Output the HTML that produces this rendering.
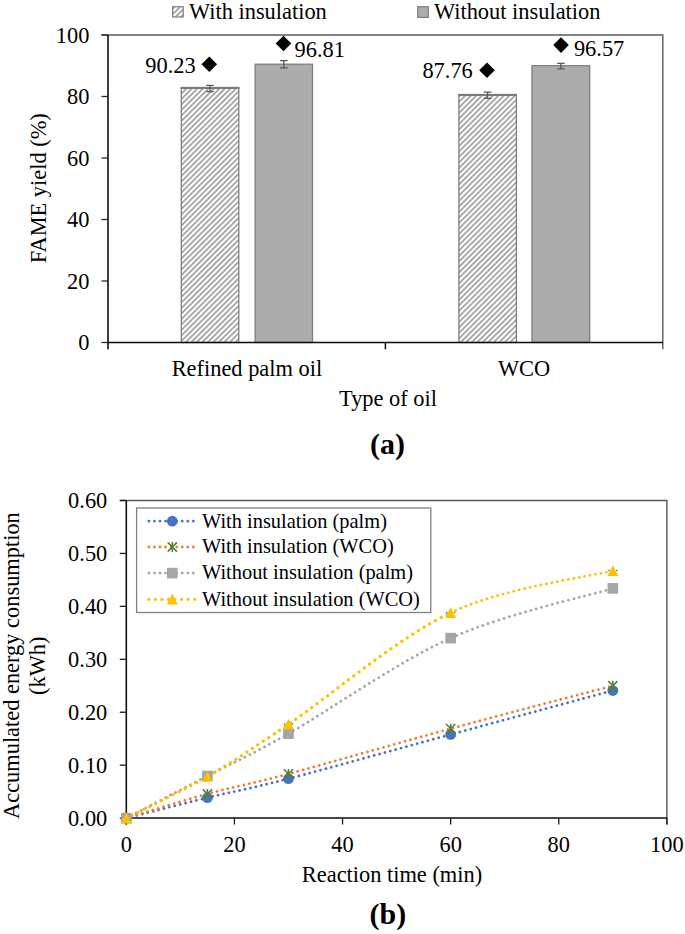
<!DOCTYPE html>
<html><head><meta charset="utf-8"><style>
html,body{margin:0;padding:0;background:#fff;}
body{width:685px;height:934px;overflow:hidden;}
svg{display:block;}
text{font-family:"Liberation Serif", serif;fill:#000;}
</style></head><body>
<svg width="685" height="934" viewBox="0 0 685 934">
<defs>

</defs>

<clipPath id="hc0"><rect x="181.3" y="87.5" width="57.5" height="255.0"/></clipPath><rect x="181.3" y="87.5" width="57.5" height="255.0" fill="#fff"/><path clip-path="url(#hc0)" d="M-80.50,344.50L178.50,85.50M-75.00,344.50L184.00,85.50M-69.50,344.50L189.50,85.50M-64.00,344.50L195.00,85.50M-58.50,344.50L200.50,85.50M-53.00,344.50L206.00,85.50M-47.50,344.50L211.50,85.50M-42.00,344.50L217.00,85.50M-36.50,344.50L222.50,85.50M-31.00,344.50L228.00,85.50M-25.50,344.50L233.50,85.50M-20.00,344.50L239.00,85.50M-14.50,344.50L244.50,85.50M-9.00,344.50L250.00,85.50M-3.50,344.50L255.50,85.50M2.00,344.50L261.00,85.50M7.50,344.50L266.50,85.50M13.00,344.50L272.00,85.50M18.50,344.50L277.50,85.50M24.00,344.50L283.00,85.50M29.50,344.50L288.50,85.50M35.00,344.50L294.00,85.50M40.50,344.50L299.50,85.50M46.00,344.50L305.00,85.50M51.50,344.50L310.50,85.50M57.00,344.50L316.00,85.50M62.50,344.50L321.50,85.50M68.00,344.50L327.00,85.50M73.50,344.50L332.50,85.50M79.00,344.50L338.00,85.50M84.50,344.50L343.50,85.50M90.00,344.50L349.00,85.50M95.50,344.50L354.50,85.50M101.00,344.50L360.00,85.50M106.50,344.50L365.50,85.50M112.00,344.50L371.00,85.50M117.50,344.50L376.50,85.50M123.00,344.50L382.00,85.50M128.50,344.50L387.50,85.50M134.00,344.50L393.00,85.50M139.50,344.50L398.50,85.50M145.00,344.50L404.00,85.50M150.50,344.50L409.50,85.50M156.00,344.50L415.00,85.50M161.50,344.50L420.50,85.50M167.00,344.50L426.00,85.50M172.50,344.50L431.50,85.50M178.00,344.50L437.00,85.50M183.50,344.50L442.50,85.50M189.00,344.50L448.00,85.50M194.50,344.50L453.50,85.50M200.00,344.50L459.00,85.50M205.50,344.50L464.50,85.50M211.00,344.50L470.00,85.50M216.50,344.50L475.50,85.50M222.00,344.50L481.00,85.50M227.50,344.50L486.50,85.50M233.00,344.50L492.00,85.50M238.50,344.50L497.50,85.50" stroke="#a6a6a6" stroke-width="1.9" fill="none"/>
<rect x="181.3" y="87.5" width="57.5" height="255.0" fill="none" stroke="#7f7f7f" stroke-width="1.3"/>
<path d="M180.70000000000002,88.0 H239.4" stroke="#7a7a7a" stroke-width="2"/>
<rect x="255.1" y="64.2" width="57.400000000000006" height="278.3" fill="#acacac" stroke="#7f7f7f" stroke-width="1.3"/>
<clipPath id="hc2"><rect x="458.9" y="94.5" width="57.5" height="248.0"/></clipPath><rect x="458.9" y="94.5" width="57.5" height="248.0" fill="#fff"/><path clip-path="url(#hc2)" d="M205.50,344.50L457.50,92.50M211.00,344.50L463.00,92.50M216.50,344.50L468.50,92.50M222.00,344.50L474.00,92.50M227.50,344.50L479.50,92.50M233.00,344.50L485.00,92.50M238.50,344.50L490.50,92.50M244.00,344.50L496.00,92.50M249.50,344.50L501.50,92.50M255.00,344.50L507.00,92.50M260.50,344.50L512.50,92.50M266.00,344.50L518.00,92.50M271.50,344.50L523.50,92.50M277.00,344.50L529.00,92.50M282.50,344.50L534.50,92.50M288.00,344.50L540.00,92.50M293.50,344.50L545.50,92.50M299.00,344.50L551.00,92.50M304.50,344.50L556.50,92.50M310.00,344.50L562.00,92.50M315.50,344.50L567.50,92.50M321.00,344.50L573.00,92.50M326.50,344.50L578.50,92.50M332.00,344.50L584.00,92.50M337.50,344.50L589.50,92.50M343.00,344.50L595.00,92.50M348.50,344.50L600.50,92.50M354.00,344.50L606.00,92.50M359.50,344.50L611.50,92.50M365.00,344.50L617.00,92.50M370.50,344.50L622.50,92.50M376.00,344.50L628.00,92.50M381.50,344.50L633.50,92.50M387.00,344.50L639.00,92.50M392.50,344.50L644.50,92.50M398.00,344.50L650.00,92.50M403.50,344.50L655.50,92.50M409.00,344.50L661.00,92.50M414.50,344.50L666.50,92.50M420.00,344.50L672.00,92.50M425.50,344.50L677.50,92.50M431.00,344.50L683.00,92.50M436.50,344.50L688.50,92.50M442.00,344.50L694.00,92.50M447.50,344.50L699.50,92.50M453.00,344.50L705.00,92.50M458.50,344.50L710.50,92.50M464.00,344.50L716.00,92.50M469.50,344.50L721.50,92.50M475.00,344.50L727.00,92.50M480.50,344.50L732.50,92.50M486.00,344.50L738.00,92.50M491.50,344.50L743.50,92.50M497.00,344.50L749.00,92.50M502.50,344.50L754.50,92.50M508.00,344.50L760.00,92.50M513.50,344.50L765.50,92.50M519.00,344.50L771.00,92.50" stroke="#a6a6a6" stroke-width="1.9" fill="none"/>
<rect x="458.9" y="94.5" width="57.5" height="248.0" fill="none" stroke="#7f7f7f" stroke-width="1.3"/>
<path d="M458.29999999999995,95.0 H517.0" stroke="#7a7a7a" stroke-width="2"/>
<rect x="532.0" y="65.7" width="57.700000000000045" height="276.8" fill="#acacac" stroke="#7f7f7f" stroke-width="1.3"/>
<path d="M210,85.4 V91.6 M206.2,85.4 H213.8 M206.2,91.6 H213.8" stroke="#595959" stroke-width="1.3" fill="none"/>
<path d="M283.8,60.6 V67.8 M280.0,60.6 H287.6 M280.0,67.8 H287.6" stroke="#595959" stroke-width="1.3" fill="none"/>
<path d="M487.6,92.2 V98.3 M483.8,92.2 H491.40000000000003 M483.8,98.3 H491.40000000000003" stroke="#595959" stroke-width="1.3" fill="none"/>
<path d="M560.9,63.4 V68.8 M557.1,63.4 H564.6999999999999 M557.1,68.8 H564.6999999999999" stroke="#595959" stroke-width="1.3" fill="none"/>
<path d="M101.5,35 H662.8 V349.3" stroke="#595959" stroke-width="1.4" fill="none"/>
<path d="M108,35 V349.3" stroke="#1a1a1a" stroke-width="1.7" fill="none"/>
<path d="M108,342.5 H662.8 M385.4,342.5 V349.3" stroke="#0d0d0d" stroke-width="1.5" fill="none"/>
<path d="M101.5,342.5 H108" stroke="#262626" stroke-width="1.3"/>
<text x="89.4" y="350.0" font-size="22.4" text-anchor="end">0</text>
<path d="M101.5,281.0 H108" stroke="#262626" stroke-width="1.3"/>
<text x="89.4" y="288.5" font-size="22.4" text-anchor="end">20</text>
<path d="M101.5,219.5 H108" stroke="#262626" stroke-width="1.3"/>
<text x="89.4" y="227.0" font-size="22.4" text-anchor="end">40</text>
<path d="M101.5,158.0 H108" stroke="#262626" stroke-width="1.3"/>
<text x="89.4" y="165.5" font-size="22.4" text-anchor="end">60</text>
<path d="M101.5,96.5 H108" stroke="#262626" stroke-width="1.3"/>
<text x="89.4" y="104.0" font-size="22.4" text-anchor="end">80</text>
<path d="M101.5,35.0 H108" stroke="#262626" stroke-width="1.3"/>
<text x="89.4" y="42.5" font-size="22.4" text-anchor="end">100</text>
<path d="M209.3,56.5 L217.10000000000002,64.3 L209.3,72.1 L201.5,64.3 Z" fill="#000"/>
<path d="M283.5,35.7 L291.3,43.5 L283.5,51.3 L275.7,43.5 Z" fill="#000"/>
<path d="M487,62.5 L494.8,70.3 L487,78.1 L479.2,70.3 Z" fill="#000"/>
<path d="M561,37.300000000000004 L568.8,45.1 L561,52.9 L553.2,45.1 Z" fill="#000"/>
<text x="145.3" y="73.4" font-size="22.4">90.23</text>
<text x="294.5" y="56.9" font-size="22.4">96.81</text>
<text x="422.4" y="78.4" font-size="22.4">87.76</text>
<text x="573.9" y="55.6" font-size="22.4">96.57</text>
<clipPath id="hcl"><rect x="172.6" y="6.7" width="10.599999999999994" height="10.3"/></clipPath><rect x="172.6" y="6.7" width="10.599999999999994" height="10.3" fill="#fff"/><path clip-path="url(#hcl)" d="M157.00,19.00L171.30,4.70M162.50,19.00L176.80,4.70M168.00,19.00L182.30,4.70M173.50,19.00L187.80,4.70M179.00,19.00L193.30,4.70M184.50,19.00L198.80,4.70" stroke="#a6a6a6" stroke-width="1.9" fill="none"/>
<rect x="172.6" y="6.7" width="10.6" height="10.3" fill="none" stroke="#7f7f7f" stroke-width="1.2"/>
<text x="189" y="18.8" font-size="22.4">With insulation</text>
<rect x="417.7" y="6.7" width="10.6" height="10.7" fill="#acacac" stroke="#7f7f7f" stroke-width="1.2"/>
<text x="434" y="18.8" font-size="22.4">Without insulation</text>
<text x="246.9" y="376" font-size="22.4" text-anchor="middle">Refined palm oil</text>
<text x="524.1" y="376.2" font-size="22.4" text-anchor="middle">WCO</text>
<text x="388" y="405.9" font-size="22.4" text-anchor="middle">Type of oil</text>
<text x="387.6" y="453.5" font-size="30" font-weight="bold" text-anchor="middle">(a)</text>
<text transform="translate(46,188.3) rotate(-90)" font-size="22.4" text-anchor="middle">FAME yield (%)</text>
<path d="M119.8,500.5 H666.9 V824.5" stroke="#595959" stroke-width="1.4" fill="none"/>
<path d="M126.3,500.5 V824.5" stroke="#111" stroke-width="1.6" fill="none"/>
<path d="M126.3,818.1 H666.9" stroke="#0d0d0d" stroke-width="1.5" fill="none"/>
<path d="M119.8,818.1 H126.3" stroke="#1a1a1a" stroke-width="1.3"/>
<text x="107.3" y="825.5" font-size="22.4" text-anchor="end">0.00</text>
<path d="M119.8,765.1666666666666 H126.3" stroke="#1a1a1a" stroke-width="1.3"/>
<text x="107.3" y="772.5666666666666" font-size="22.4" text-anchor="end">0.10</text>
<path d="M119.8,712.2333333333333 H126.3" stroke="#1a1a1a" stroke-width="1.3"/>
<text x="107.3" y="719.6333333333333" font-size="22.4" text-anchor="end">0.20</text>
<path d="M119.8,659.3 H126.3" stroke="#1a1a1a" stroke-width="1.3"/>
<text x="107.3" y="666.6999999999999" font-size="22.4" text-anchor="end">0.30</text>
<path d="M119.8,606.3666666666667 H126.3" stroke="#1a1a1a" stroke-width="1.3"/>
<text x="107.3" y="613.7666666666667" font-size="22.4" text-anchor="end">0.40</text>
<path d="M119.8,553.4333333333334 H126.3" stroke="#1a1a1a" stroke-width="1.3"/>
<text x="107.3" y="560.8333333333334" font-size="22.4" text-anchor="end">0.50</text>
<path d="M119.8,500.5 H126.3" stroke="#1a1a1a" stroke-width="1.3"/>
<text x="107.3" y="507.9" font-size="22.4" text-anchor="end">0.60</text>
<path d="M126.3,818.1 V824.5" stroke="#1a1a1a" stroke-width="1.3"/>
<text x="126.3" y="852" font-size="22.4" text-anchor="middle">0</text>
<path d="M234.42000000000002,818.1 V824.5" stroke="#1a1a1a" stroke-width="1.3"/>
<text x="234.42000000000002" y="852" font-size="22.4" text-anchor="middle">20</text>
<path d="M342.54,818.1 V824.5" stroke="#1a1a1a" stroke-width="1.3"/>
<text x="342.54" y="852" font-size="22.4" text-anchor="middle">40</text>
<path d="M450.66,818.1 V824.5" stroke="#1a1a1a" stroke-width="1.3"/>
<text x="450.66" y="852" font-size="22.4" text-anchor="middle">60</text>
<path d="M558.78,818.1 V824.5" stroke="#1a1a1a" stroke-width="1.3"/>
<text x="558.78" y="852" font-size="22.4" text-anchor="middle">80</text>
<path d="M666.9,818.1 V824.5" stroke="#1a1a1a" stroke-width="1.3"/>
<text x="666.9" y="852" font-size="22.4" text-anchor="middle">100</text>
<text x="392" y="881.5" font-size="22.4" text-anchor="middle">Reaction time (min)</text>
<text x="387.8" y="924" font-size="30" font-weight="bold" text-anchor="middle">(b)</text>
<text transform="translate(18.8,665.6) rotate(-90)" font-size="22.4" text-anchor="middle">Accumulated energy consumption</text>
<text transform="translate(45.1,665.8) rotate(-90)" font-size="22.4" text-anchor="middle">(kWh)</text>
<path d="M126.30,818.10 C139.81,814.70 180.36,804.28 207.39,797.72 C234.42,791.16 247.94,789.26 288.48,778.72 C329.03,768.18 396.60,749.16 450.66,734.47 C504.72,719.77 585.81,697.85 612.84,690.53" stroke="#4472c4" stroke-width="2.8" stroke-linecap="round" stroke-dasharray="0.001 5.558999999999999" fill="none"/>
<path d="M126.30,818.10 C139.81,814.07 180.36,801.28 207.39,793.91 C234.42,786.54 247.94,784.78 288.48,773.90 C329.03,763.02 396.60,743.33 450.66,728.64 C504.72,713.95 585.81,692.91 612.84,685.77" stroke="#ed7d31" stroke-width="2.8" stroke-linecap="round" stroke-dasharray="0.001 5.558999999999999" fill="none"/>
<path d="M126.30,818.10 C139.81,811.07 180.36,789.98 207.39,775.91 C234.42,761.84 247.94,756.64 288.48,733.67 C329.03,710.71 396.60,662.34 450.66,638.13 C504.72,613.91 585.81,596.66 612.84,588.37" stroke="#a5a5a5" stroke-width="2.8" stroke-linecap="round" stroke-dasharray="0.001 5.558999999999999" fill="none"/>
<path d="M126.30,818.10 C139.81,811.17 180.36,792.14 207.39,776.49 C234.42,760.85 247.94,751.55 288.48,724.25 C329.03,696.95 396.60,638.32 450.66,612.72" stroke="#ffc000" stroke-width="3.3" stroke-linecap="round" stroke-dasharray="0.001 6.558999999999999" fill="none"/>
<path d="M450.66,612.72 C504.72,587.12 585.81,577.65 612.84,570.64" stroke="#ffc000" stroke-width="2.8" stroke-linecap="round" stroke-dasharray="0.001 5.558999999999999" fill="none"/>
<circle cx="126.30" cy="818.10" r="5.4" fill="#4472c4"/>
<circle cx="207.39" cy="797.72" r="5.4" fill="#4472c4"/>
<circle cx="288.48" cy="778.72" r="5.4" fill="#4472c4"/>
<circle cx="450.66" cy="734.47" r="5.4" fill="#4472c4"/>
<circle cx="612.84" cy="690.53" r="5.4" fill="#4472c4"/>
<path d="M121.70,813.50 L130.90,822.70 M130.90,813.50 L121.70,822.70 M126.30,813.10 V823.10" stroke="#548235" stroke-width="1.6" fill="none"/>
<path d="M202.79,789.31 L211.99,798.51 M211.99,789.31 L202.79,798.51 M207.39,788.91 V798.91" stroke="#548235" stroke-width="1.6" fill="none"/>
<path d="M283.88,769.30 L293.08,778.50 M293.08,769.30 L283.88,778.50 M288.48,768.90 V778.90" stroke="#548235" stroke-width="1.6" fill="none"/>
<path d="M446.06,724.04 L455.26,733.24 M455.26,724.04 L446.06,733.24 M450.66,723.64 V733.64" stroke="#548235" stroke-width="1.6" fill="none"/>
<path d="M608.24,681.17 L617.44,690.37 M617.44,681.17 L608.24,690.37 M612.84,680.77 V690.77" stroke="#548235" stroke-width="1.6" fill="none"/>
<rect x="121.00" y="812.80" width="10.6" height="10.6" fill="#a5a5a5"/>
<rect x="202.09" y="770.61" width="10.6" height="10.6" fill="#a5a5a5"/>
<rect x="283.18" y="728.37" width="10.6" height="10.6" fill="#a5a5a5"/>
<rect x="445.36" y="632.83" width="10.6" height="10.6" fill="#a5a5a5"/>
<rect x="607.54" y="583.07" width="10.6" height="10.6" fill="#a5a5a5"/>
<path d="M126.30,812.60 L131.70,823.40 L120.90,823.40 Z" fill="#ffc000"/>
<path d="M207.39,770.99 L212.79,781.79 L201.99,781.79 Z" fill="#ffc000"/>
<path d="M288.48,718.75 L293.88,729.55 L283.08,729.55 Z" fill="#ffc000"/>
<path d="M450.66,607.22 L456.06,618.02 L445.26,618.02 Z" fill="#ffc000"/>
<path d="M612.84,565.14 L618.24,575.94 L607.44,575.94 Z" fill="#ffc000"/>
<circle cx="284.58" cy="724.05" r="0.75" fill="#50545e"/><circle cx="292.38" cy="724.05" r="0.75" fill="#50545e"/>
<circle cx="446.76" cy="612.52" r="0.75" fill="#50545e"/><circle cx="454.56" cy="612.52" r="0.75" fill="#50545e"/>
<circle cx="608.94" cy="570.44" r="0.75" fill="#50545e"/><circle cx="616.74" cy="570.44" r="0.75" fill="#50545e"/>
<rect x="136.6" y="508" width="294.2" height="104.5" fill="#fff" stroke="#808080" stroke-width="1.3"/>
<path d="M148.9,521.2 H194" stroke="#4472c4" stroke-width="2.8" stroke-linecap="round" stroke-dasharray="0.001 5.558999999999999" fill="none"/>
<circle cx="172.30" cy="521.20" r="5.4" fill="#4472c4"/>
<text x="202" y="527.5" font-size="20.4">With insulation (palm)</text>
<path d="M148.9,547 H194" stroke="#ed7d31" stroke-width="2.8" stroke-linecap="round" stroke-dasharray="0.001 5.558999999999999" fill="none"/>
<path d="M167.70,542.40 L176.90,551.60 M176.90,542.40 L167.70,551.60 M172.30,542.00 V552.00" stroke="#548235" stroke-width="1.6" fill="none"/>
<text x="202" y="553.3" font-size="20.4">With insulation (WCO)</text>
<path d="M148.9,573.1 H194" stroke="#a5a5a5" stroke-width="2.8" stroke-linecap="round" stroke-dasharray="0.001 5.558999999999999" fill="none"/>
<rect x="167.00" y="567.80" width="10.6" height="10.6" fill="#a5a5a5"/>
<text x="202" y="579.4" font-size="20.4">Without insulation (palm)</text>
<path d="M148.8,599.3 H195" stroke="#ffc000" stroke-width="3.3" stroke-linecap="round" stroke-dasharray="0.001 6.558999999999999" fill="none"/>
<path d="M172.30,593.80 L177.70,604.60 L166.90,604.60 Z" fill="#ffc000"/>
<text x="202" y="605.5999999999999" font-size="20.4">Without insulation (WCO)</text>
</svg></body></html>
